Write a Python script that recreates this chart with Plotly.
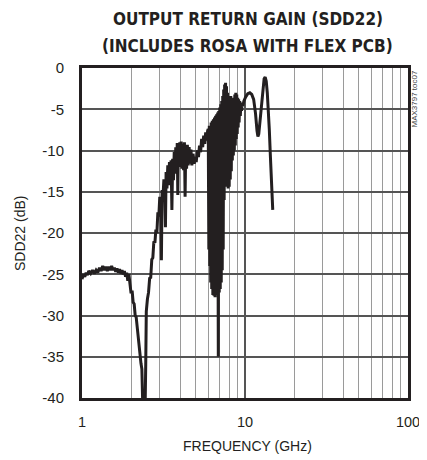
import plotly.graph_objects as go

# --- data (frequency in GHz, SDD22 in dB) ---

# flat region and roll-off into the first notch
low_freq = [1.00, 1.02, 1.04, 1.06, 1.08, 1.10, 1.13, 1.16, 1.19, 1.22, 1.25, 1.28, 1.31, 1.34,
            1.37, 1.40, 1.43, 1.46, 1.49, 1.52, 1.55, 1.58, 1.61, 1.64, 1.67, 1.70, 1.73, 1.76,
            1.79, 1.82, 1.85, 1.88, 1.91, 1.94, 1.97, 2.00, 2.03, 2.06, 2.09, 2.12, 2.15, 2.18,
            2.21, 2.24, 2.27, 2.30, 2.33, 2.36]
low_db = [-25.6, -25.0, -25.3, -24.8, -25.1, -24.6, -24.9, -24.5, -24.9, -24.5, -24.8, -24.2, -24.6, -24.0,
          -24.5, -24.1, -24.6, -24.1, -24.5, -24.0, -24.5, -24.2, -24.7, -24.3, -24.8, -24.4, -24.9, -24.5,
          -25.0, -24.6, -25.3, -24.8, -25.8, -25.0, -26.2, -27.3, -27.0, -28.4, -28.6, -30.0, -30.2, -31.5,
          -31.9, -33.5, -34.3, -35.8, -36.5, -41.0]

# notch bottom and noisy ramp up to ~6 GHz
ramp_freq = [2.40, 2.44, 2.46, 2.48, 2.52, 2.56, 2.60, 2.64, 2.68, 2.72, 2.76, 2.80, 2.84, 2.88,
             2.92, 2.96, 3.00, 3.04, 3.07, 3.10, 3.14, 3.18, 3.22, 3.25, 3.28, 3.32, 3.36, 3.40,
             3.44, 3.48, 3.52, 3.56, 3.60, 3.64, 3.68, 3.72, 3.76, 3.80, 3.84, 3.87, 3.90, 3.94,
             3.98, 4.02, 4.06, 4.10, 4.15, 4.20, 4.25, 4.29, 4.33, 4.38, 4.43, 4.48, 4.54, 4.60,
             4.66, 4.72, 4.80, 4.88, 4.95, 5.02, 5.10, 5.18, 5.26, 5.34, 5.42, 5.50, 5.58, 5.66,
             5.74, 5.82, 5.90]
ramp_db = [-41.0, -41.0, -36.0, -29.5, -28.0, -27.2, -25.5, -25.4, -23.2, -23.0, -21.0, -21.2, -19.6, -20.0,
           -17.5, -18.0, -15.6, -16.2, -23.3, -14.8, -15.6, -13.5, -14.6, -19.3, -12.6, -14.6, -11.8, -14.2,
           -11.4, -14.0, -11.2, -17.2, -11.0, -13.6, -10.2, -12.8, -9.6, -12.4, -9.1, -15.4, -9.3, -12.0,
           -9.0, -11.8, -8.9, -12.2, -9.2, -12.4, -9.0, -15.6, -9.4, -12.2, -9.3, -11.8, -9.6, -11.6,
           -9.9, -11.8, -10.4, -11.6, -10.8, -11.4, -10.0, -10.8, -9.4, -10.2, -8.6, -9.6, -8.2, -9.2,
           -7.8, -8.8, -7.6]

# resonance band 6 - 9.7 GHz
band_freq = [5.95, 6.00, 6.04, 6.08, 6.12, 6.16, 6.20, 6.25, 6.30, 6.35, 6.40, 6.45, 6.50, 6.55,
             6.60, 6.65, 6.70, 6.75, 6.80, 6.86, 6.90, 6.95, 7.00, 7.05, 7.10, 7.15, 7.20, 7.25,
             7.30, 7.35, 7.40, 7.45, 7.50, 7.55, 7.60, 7.65, 7.70, 7.76, 7.82, 7.88, 7.94, 8.00,
             8.06, 8.12, 8.18, 8.24, 8.30, 8.36, 8.42, 8.48, 8.54, 8.60, 8.66, 8.72, 8.78, 8.84,
             8.90, 8.96, 9.02, 9.08, 9.14, 9.20, 9.28, 9.36, 9.44, 9.52, 9.60, 9.70]
band_db = [-7.4, -22.0, -7.0, -24.0, -7.2, -26.0, -6.6, -26.8, -6.4, -27.5, -6.2, -27.6, -6.0, -27.8,
           -5.8, -27.5, -5.6, -27.0, -5.4, -35.0, -5.2, -27.2, -4.8, -26.8, -4.4, -26.0, -4.0, -24.5,
           -3.4, -22.0, -2.6, -16.0, -2.0, -13.2, -1.8, -14.0, -2.2, -14.4, -3.0, -14.6, -3.4, -14.4,
           -3.6, -13.5, -3.4, -12.5, -3.8, -11.2, -4.2, -10.6, -3.6, -10.0, -3.2, -9.4, -3.0, -8.6,
           -3.2, -8.0, -3.6, -7.2, -3.8, -6.6, -4.0, -5.8, -4.2, -5.2, -4.3, -4.6]

# smooth tail above 10 GHz
tail_freq = [9.85, 10.1, 10.4, 10.7, 11.0, 11.3, 11.6, 11.85, 12.0, 12.15, 12.3, 12.5, 12.7, 12.9,
             13.1, 13.3, 13.5, 13.7, 13.9, 14.1, 14.3, 14.5, 14.7, 14.8]
tail_db = [-4.0, -3.5, -3.1, -3.0, -3.2, -3.8, -5.5, -7.6, -8.3, -8.0, -6.8, -5.0, -3.4, -2.0,
           -1.3, -1.1, -1.6, -3.0, -5.0, -7.5, -10.5, -13.5, -16.2, -17.2]

y_ticks = [0, -5, -10, -15, -20, -25, -30, -35, -40]
y_labels = ["0", "-5", "-10", "-15", "-20", "-25", "-30", "-35", "-40"]
x_major = [1, 10, 100]
x_labels = ["1", "10", "100"]
x_minor = [2, 3, 4, 5, 6, 7, 8, 9, 20, 30, 40, 50, 60, 70, 80, 90]

freq = low_freq + ramp_freq + band_freq + tail_freq
sdd22 = low_db + ramp_db + band_db + tail_db

INK = "#231f20"
FONT = "Liberation Sans, Arial, sans-serif"
TITLE_FONT = dict(family="DejaVu Sans Condensed, Liberation Sans Narrow, sans-serif",
                  size=17, color=INK, weight="bold")

PLOT_W = 326   # plot area width in px
CENTER_X = (248 - 82) / PLOT_W   # reference centres its titles at x ~ 248

fig = go.Figure()
fig.add_trace(go.Scatter(
    x=freq, y=sdd22, mode="lines",
    line=dict(color=INK, width=3),
    hoverinfo="skip", showlegend=False,
))

# the page keeps an 8px body margin, so the figure is offset by that much
fig.update_layout(
    width=419, height=452,
    paper_bgcolor="white", plot_bgcolor="white",
    margin=dict(l=74, r=419 - 74 - PLOT_W, t=60, b=62),
    font=dict(family=FONT, size=14, color=INK),
)

fig.update_xaxes(
    type="log", range=[0, 2], automargin=False, ticklabeloverflow="allow",
    tickvals=x_major, ticktext=x_labels,
    ticks="outside", ticklen=9, tickcolor="rgba(0,0,0,0)",
    showgrid=True, gridcolor="#555555", gridwidth=1.6,
    minor=dict(tickvals=x_minor, showgrid=True, gridcolor="#9a9a9a", gridwidth=1.4, ticks=""),
    showline=True, mirror=True, linecolor=INK, linewidth=3,
    zeroline=False, tickfont=dict(size=14.5),
)
fig.update_yaxes(
    range=[-40, 0], automargin=False,
    tickvals=y_ticks, ticktext=y_labels,
    ticks="outside", ticklen=12, tickcolor="rgba(0,0,0,0)",
    showgrid=True, gridcolor="#555555", gridwidth=1.6,
    showline=True, mirror=True, linecolor=INK, linewidth=3,
    zeroline=False, tickfont=dict(size=15),
)

fig.add_annotation(text="OUTPUT RETURN GAIN (SDD22)", xref="paper", yref="paper",
                   x=CENTER_X, y=1 + 49 / 330, yanchor="middle", showarrow=False, font=TITLE_FONT)
fig.add_annotation(text="(INCLUDES ROSA WITH FLEX PCB)", xref="paper", yref="paper",
                   x=CENTER_X, y=1 + 22 / 330, yanchor="middle", showarrow=False, font=TITLE_FONT)
fig.add_annotation(text="FREQUENCY (GHz)", xref="paper", yref="paper",
                   x=CENTER_X, y=-48 / 330, yanchor="middle", showarrow=False,
                   font=dict(size=14, color=INK))
fig.add_annotation(text="SDD22 (dB)", xref="paper", yref="paper",
                   x=-62 / PLOT_W, y=0.5, xanchor="center", textangle=-90, showarrow=False,
                   font=dict(size=14, color=INK))
fig.add_annotation(text="MAX3797 toc07", xref="paper", yref="paper",
                   x=1 + 6 / PLOT_W, y=1.0, xanchor="center", yanchor="top",
                   textangle=-90, showarrow=False,
                   font=dict(size=8, color="#444444"))

fig.write_html("out.html")
